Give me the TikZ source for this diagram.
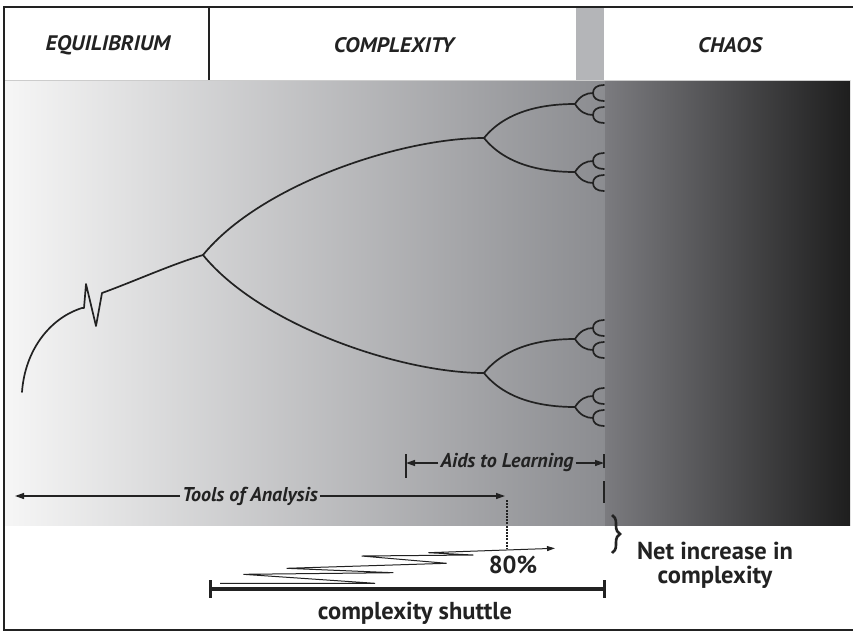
\documentclass[tikz,border=0pt]{standalone}
\usepackage{fontspec}
\setmainfont{PT Sans}
\newfontfamily\hdrfont{PT Sans}[FakeStretch=1.06]
\usetikzlibrary{arrows.meta,decorations.pathreplacing}
\definecolor{ink}{HTML}{222222}
\definecolor{barg}{HTML}{B4B5B8}
\definecolor{gla}{HTML}{F6F6F6}
\definecolor{glb}{HTML}{8B8C90}
\definecolor{gra}{HTML}{7B7B7F}
\definecolor{grb}{HTML}{1E1E1E}
\tikzset{
  tree/.style={draw=ink, line width=1.7pt, line cap=round, line join=round},
  hdr/.style={font=\hdrfont\fontsize{21}{23}\selectfont\bfseries\itshape, text=ink, inner sep=0pt},
  lbl/.style={font=\fontsize{20}{22}\selectfont\bfseries\itshape, text=ink, inner sep=2pt},
  big/.style={font=\fontsize{24.5}{24}\selectfont\bfseries, text=ink, align=center, inner sep=0pt},
  dimarrow/.style={draw=ink, line width=1.3pt, -{Triangle[length=9pt,width=6pt]}},
  tick/.style={draw=ink, line width=1.3pt},
}
\begin{document}
\begin{tikzpicture}[x=1pt,y=-1pt]
\useasboundingbox (0,0) rectangle (853,632);
% background shading
\shade[left color=gla, right color=glb] (4,80) rectangle (605,525);
\shade[left color=gra, right color=grb] (605,80) rectangle (850,525);
% header
\fill[barg] (576,7) rectangle (604,80);
\draw[gray!40, line width=0.8pt] (4,80) -- (850,80);
\draw[ink, line width=1.3pt] (209,7) -- (209,80);
\draw[ink, line width=2.6pt] (853,7) -- (4,7) -- (4,630) -- (853,630);
\node[hdr] (equ) at (108,45) {EQUILIBRIUM};
\node[hdr] (cpx) at (394,45) {COMPLEXITY};
\node[hdr] (cha) at (730,45) {CHAOS};
% trunk
\coordinate (b0) at (203,255);
\draw[tree] (22,392) .. controls (25,350) and (50,318) .. (82,308) -- (84,308) -- (86,284) -- (96,326) -- (102,293)
  .. controls (135,281) and (170,265) .. (b0);
\coordinate (u1) at (484,138);
\coordinate (l1) at (484,373);
\draw[tree] (b0) .. controls (260,185) and (400,138) .. (u1);
\draw[tree] (b0) .. controls (260,325) and (400,373) .. (l1);
\foreach \y in {138,373} {
  \draw[tree] (484,\y) .. controls (505,\y-26) and (540,\y-34) .. (575,\y-34);
  \draw[tree] (484,\y) .. controls (505,\y+26) and (540,\y+34) .. (575,\y+34);
  \foreach \s in {-34,34} {
    \draw[tree] (575,\y+\s) .. controls (580,\y+\s-8) and (586,\y+\s-11) .. (593,\y+\s-11);
    \draw[tree] (575,\y+\s) .. controls (580,\y+\s+8) and (586,\y+\s+11) .. (593,\y+\s+11);
    \foreach \t in {-11,11} {
      \draw[tree] (593,\y+\s+\t) .. controls (593,\y+\s+\t-5) and (597,\y+\s+\t-8) .. (604,\y+\s+\t-8);
      \draw[tree] (593,\y+\s+\t) .. controls (593,\y+\s+\t+5) and (597,\y+\s+\t+8) .. (604,\y+\s+\t+8);
    }
  }
}
% Aids to Learning
\node[lbl] (aids) at (507,463) {Aids to Learning};
\coordinate (aL) at (406,463);
\coordinate (aR) at (604,463);
\draw[tick] (406,454) -- (406,478);
\draw[tick] (604,454) -- (604,468);
\draw[tick] (604,481) -- (604,503);
\draw[dimarrow] (aids.west) -- (aL);
\draw[dimarrow] (aids.east) -- (aR);
% Tools of Analysis
\node[lbl] (tools) at (250,496) {Tools of Analysis};
\coordinate (tL) at (15,496);
\coordinate (tR) at (505,496);
\draw[dimarrow] (tools.west) -- (tL);
\draw[dimarrow] (tools.east) -- (tR);
% dotted marker
\coordinate (d1) at (507,500);
\coordinate (d2) at (507,549);
\draw[ink, line width=2.6pt, dash pattern=on 2pt off 1.2pt] (d1) -- (d2);
% zigzag shuttle
\draw[ink, line width=1pt, line join=miter, -{Triangle[length=8pt,width=5pt]}]
  (220,583.3) -- (375,583.3) -- (243.3,574.3) -- (393.3,572.7) -- (286.7,568.3) -- (446.7,563.3)
  -- (361.7,556) -- (473.3,555) -- (428.3,552.7) -- (555,548.3);
\node[big] (pct) at (513,565) {80\%};
% brace
\draw[ink, line width=2.6pt, decorate, decoration={brace, amplitude=8pt}] (612,515) -- (612,553);
\node[big] (net) at (715,565) {Net increase in\\complexity};
% complexity shuttle bar
\coordinate (sL) at (210,589);
\coordinate (sR) at (604,589);
\draw[ink, line width=3.5pt] (sL) -- (sR);
\draw[ink, line width=3pt] (210,580) -- (210,598);
\draw[ink, line width=3pt] (604,580) -- (604,598);
\node[big] (shut) at (415,613) {complexity shuttle};
\end{tikzpicture}
\end{document}
